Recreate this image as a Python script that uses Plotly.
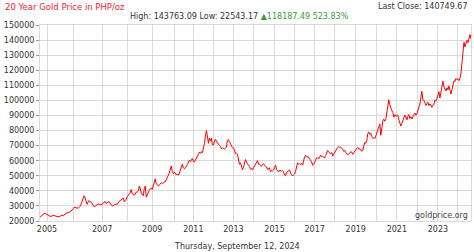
import plotly.graph_objects as go

# Gold price in PHP/oz, thousands, samples per year (as plotted by the source)
p2004 = [22.6, 23.1, 23.6, 24.0, 24.6, 25.3, 24.7]
p2005 = [24.3, 23.8, 23.4, 23.2, 22.9, 23.4, 23.8, 23.6, 23.3, 23.5, 23.1, 22.8, 22.7,
         23.2, 23.7, 23.9, 23.6, 24.0, 24.3, 24.6, 25.4, 25.8, 25.6, 26.0, 26.5, 27.3]
p2006 = [28.2, 28.9, 29.3, 28.6, 28.8, 28.3, 29.0, 29.8, 31.2, 33.0, 35.2, 36.8, 35.5,
         33.2, 31.0, 32.6, 33.6, 32.8, 32.2, 31.8, 30.4, 29.4, 29.8, 30.2, 30.9, 31.4,
         31.0, 31.2, 30.7]
p2007 = [30.9, 31.9, 32.5, 33.0, 31.6, 31.8, 32.5, 32.8, 31.5, 30.7, 30.1, 30.0, 30.6,
         30.9, 31.2, 30.9, 32.2, 33.2, 33.4, 33.9, 34.6, 35.3, 32.8, 33.5, 34.4]
p2008 = [36.1, 37.1, 37.3, 38.7, 40.9, 38.2, 38.0, 37.0, 37.8, 39.2, 39.2, 39.8, 43.2,
         41.9, 38.5, 37.7, 36.7, 41.4, 43.2, 35.8, 37.6, 38.8, 40.3, 41.3, 41.8]
p2009 = [40.9, 43.7, 45.6, 48.0, 44.6, 44.2, 43.2, 43.6, 44.6, 45.4, 44.8, 45.4, 45.8,
         45.9, 47.5, 48.6, 49.8, 51.8, 54.5, 56.5, 52.8, 51.5]
p2010 = [52.5, 51.0, 50.6, 51.3, 50.4, 51.6, 54.2, 56.3, 57.8, 55.2, 54.6, 55.6, 55.9,
         57.5, 58.6, 60.3, 59.4, 60.8, 61.5]
p2011 = [59.6, 59.0, 60.2, 61.5, 62.0, 63.5, 65.6, 64.8, 66.0, 65.2, 67.8, 71.2, 75.8,
         80.0, 76.5, 71.5, 74.8, 73.0, 75.0, 70.5]
p2012 = [70.5, 72.5, 74.2, 73.0, 71.2, 70.8, 70.2, 69.5, 67.8, 68.4, 68.2, 67.5, 68.3,
         69.0, 73.5, 74.0, 72.6, 71.0, 70.2, 68.6]
p2013 = [68.4, 67.2, 64.6, 65.0, 64.4, 60.0, 57.6, 58.6, 56.2, 54.0, 55.6, 57.8, 60.8,
         59.0, 57.4, 57.0, 56.0, 54.4, 54.8, 53.8]
p2014 = [55.2, 56.4, 58.0, 59.2, 60.0, 57.6, 57.8, 56.8, 56.2, 57.4, 58.0, 56.8, 56.4,
         55.8, 54.2, 54.8, 55.2, 52.6, 53.6, 53.2, 53.8]
p2015 = [55.4, 57.0, 54.2, 53.4, 52.5, 53.6, 53.4, 53.0, 53.6, 52.8, 50.4, 50.0, 52.2,
         52.8, 53.0, 53.8, 51.6, 50.2, 49.8, 50.6]
p2016 = [51.2, 53.0, 56.4, 58.6, 57.6, 58.0, 57.4, 58.2, 57.0, 60.2, 62.8, 63.6, 62.4,
         63.0, 62.2, 61.4, 60.0, 59.2, 57.0, 57.6]
p2017 = [59.0, 60.4, 62.0, 61.6, 61.2, 62.4, 63.6, 62.6, 63.0, 62.2, 61.8, 63.4, 65.2,
         66.8, 65.8, 65.0, 64.6, 65.4, 63.0, 64.4]
p2018 = [65.6, 67.0, 68.4, 68.8, 69.4, 68.6, 69.0, 68.4, 67.6, 66.2, 66.8, 65.4, 64.6,
         63.8, 64.6, 65.0, 66.0, 65.6, 64.2, 65.4, 66.6]
p2019 = [67.0, 68.2, 68.8, 67.6, 68.0, 66.8, 66.2, 67.0, 70.8, 72.2, 71.6, 73.0, 77.8,
         79.0, 77.4, 78.2, 76.0, 74.8, 75.2, 74.6, 76.4]
p2020 = [78.8, 80.6, 81.8, 84.4, 76.8, 84.0, 86.4, 87.6, 86.2, 87.4, 91.8, 95.6, 100.4,
         97.0, 94.0, 93.2, 92.0, 88.8, 90.6, 89.6]
p2021 = [89.8, 90.4, 87.2, 85.4, 83.0, 84.6, 86.4, 88.6, 90.2, 89.0, 87.0, 89.4, 90.6,
         88.0, 89.2, 87.6, 89.6, 90.4, 91.6, 90.2, 91.0]
p2022 = [92.8, 94.4, 97.6, 102.0, 106.0, 100.4, 100.0, 98.6, 96.6, 97.8, 98.8, 96.4,
         97.6, 97.0, 95.4, 96.8, 97.2, 100.2, 99.6, 101.2]
p2023 = [104.0, 105.8, 101.6, 106.0, 110.4, 112.8, 109.0, 107.6, 106.2, 108.4, 107.0,
         109.6, 106.0, 104.2, 107.0, 111.2, 113.0, 112.4, 114.6, 113.8]
p2024 = [114.2, 113.0, 114.6, 118.0, 126.4, 133.2, 138.6, 135.4, 137.2, 139.8, 138.4,
         141.6, 143.7, 140.7]

years = list(range(2004, 2025))
yearly = [p2004, p2005, p2006, p2007, p2008, p2009, p2010, p2011, p2012, p2013, p2014,
          p2015, p2016, p2017, p2018, p2019, p2020, p2021, p2022, p2023, p2024]

y_ticks = list(range(20000, 150001, 10000))

title_text = "20 Year Gold Price in PHP/oz"
stats_text = "High: 143763.09 Low: 22543.17 "
change_text = "\u25b2118187.49 523.83%"
last_text = "Last Close: 140749.67"
date_text = "Thursday, September 12, 2024"
credit_text = "goldprice.org"

# build series: x is the sample position on the chart
values = []
year_start = []
for yr, vals in zip(years, yearly):
    year_start.append(len(values))
    values.extend(v * 1000 for v in vals)
xs = list(range(len(values)))

tickvals = year_start[1:]
ticktext = [str(y) if y % 2 == 1 else "" for y in years[1:]]

W, H = 474, 252
L, R, T, B = 40, 3, 25, 31
pw, ph = W - L - R, H - T - B

def px(x):
    return (x - L) / pw

def py(y):
    return (H - B - y) / ph

FONT = "DejaVu Sans"
TXT = "#333333"
GRID = "#d9d9d9"

fig = go.Figure()
fig.add_trace(go.Scatter(x=xs, y=values, mode="lines",
                         line=dict(color="#ff0000", width=1), hoverinfo="skip"))

fig.update_layout(
    width=W, height=H,
    margin=dict(l=L, r=R, t=T, b=B),
    paper_bgcolor="white", plot_bgcolor="white",
    showlegend=False,
    font=dict(family=FONT, size=8, color=TXT),
    xaxis=dict(range=[0, len(values) - 1], tickmode="array", tickvals=tickvals,
               ticktext=ticktext, showgrid=True, gridcolor=GRID, gridwidth=1,
               zeroline=False, showline=True, linecolor=GRID, mirror=True,
               ticks="", tickfont=dict(family=FONT, size=8, color=TXT),
               fixedrange=True),
    yaxis=dict(range=[20000, 150000], tickmode="array", tickvals=y_ticks,
               ticktext=[str(v) for v in y_ticks], showgrid=True, gridcolor=GRID,
               gridwidth=1, zeroline=False, showline=True, linecolor=GRID, mirror=True,
               ticks="outside", ticklen=3, tickcolor="#999999",
               tickfont=dict(family=FONT, size=8, color=TXT), fixedrange=True),
)

ann = [
    dict(text=title_text, x=px(3), y=py(7), xanchor="left", yanchor="middle",
         font=dict(family=FONT, size=8.5, color="#e8262e")),
    dict(text=stats_text + "<span style='color:#3c9a3c'>" + change_text + "</span>",
         x=px(128), y=py(16), xanchor="left", yanchor="middle",
         font=dict(family=FONT, size=8, color=TXT)),
    dict(text=last_text, x=px(470), y=py(6), xanchor="right", yanchor="middle",
         font=dict(family=FONT, size=8, color=TXT)),
    dict(text=credit_text, x=px(470), y=py(215), xanchor="right", yanchor="middle",
         font=dict(family=FONT, size=8, color="#444444")),
    dict(text=date_text, x=px(237), y=py(246), xanchor="center", yanchor="middle",
         font=dict(family=FONT, size=8, color=TXT)),
]
for a in ann:
    a.update(xref="paper", yref="paper", showarrow=False)
fig.update_layout(annotations=ann)

fig.write_html("out.html")
